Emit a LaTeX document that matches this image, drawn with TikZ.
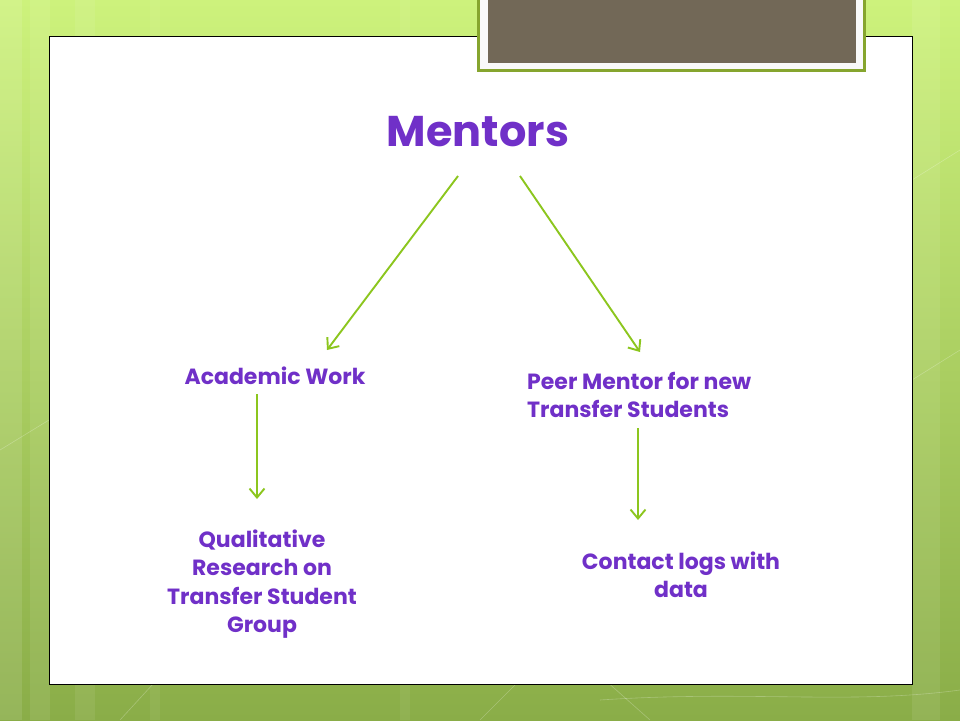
\documentclass[tikz,border=0pt]{standalone}
\usepackage{fontspec}
\setmainfont{Poppins}
\usetikzlibrary{arrows.meta}
\definecolor{txtpurple}{HTML}{7030C8}
\definecolor{arrgreen}{HTML}{8CC61E}
\definecolor{bgtop}{HTML}{CDF27C}
\definecolor{bgbot}{HTML}{8AAD48}
\definecolor{greybox}{HTML}{726857}
\definecolor{rimgreen}{HTML}{86A52E}
\tikzset{
  lbl/.style={text=txtpurple, font=\fontsize{22}{28.5}\selectfont\bfseries, inner sep=0pt},
  conn/.style={draw=arrgreen, line width=1.9pt, -{Straight Barb[length=9pt,width=15pt,line width=1.9pt]}},
}
\begin{document}
\begin{tikzpicture}[x=1pt,y=-1pt]
\useasboundingbox (0,0) rectangle (960,720);
% background
\shade[top color=bgtop, bottom color=bgbot] (0,0) rectangle (960,720);
\fill[white, opacity=0.10] (0,0) rectangle (22,720);
\fill[white, opacity=0.08] (30,0) rectangle (50,720);
\fill[white, opacity=0.07] (75,0) rectangle (95,720);
\fill[white, opacity=0.06] (150,0) rectangle (160,720);
\fill[white, opacity=0.06] (400,0) rectangle (410,720);
\fill[white, opacity=0.08] (912,0) rectangle (940,720);
\draw[white, opacity=0.25, line width=0.6pt] (120,720) -- (230,600);
\draw[white, opacity=0.25, line width=0.6pt] (480,720) -- (560,640);
\draw[white, opacity=0.25, line width=0.6pt] (560,640) -- (650,720);
\draw[white, opacity=0.25, line width=0.6pt] (600,700) .. controls (750,690) and (850,705) .. (960,690);
\draw[white, opacity=0.25, line width=0.6pt] (912,380) -- (960,350);
\draw[white, opacity=0.25, line width=0.6pt] (912,180) -- (960,150);
\draw[white, opacity=0.25, line width=0.6pt] (0,450) -- (49,420);
% white panel
\draw[fill=white, draw=black, line width=1pt] (49,36) rectangle (912,684);
% top grey box
\fill[fill=rimgreen] (477,-2) rectangle (866,72);
\fill[fill=white!95!gray] (480,-2) rectangle (863,69);
\fill[fill=greybox] (488,-2) rectangle (856,63);
% nodes
\node[text=txtpurple, font=\fontsize{43}{50}\selectfont\bfseries, inner sep=0pt] (mentors) at (478,132) {Mentors};
\node[lbl] (acad) at (275,376) {Academic Work};
\node[lbl, align=left, anchor=west] (peer) at (527,395) {Peer Mentor for new\\Transfer Students};
\node[lbl, align=center] (qual) at (262,584) {Qualitative\\Research on\\Transfer Student\\Group};
\node[lbl, align=center] (cont) at (681,575) {Contact logs with\\data};
% connector end points
\coordinate (m1) at (458,176);
\coordinate (m2) at (520,176);
\coordinate (a1) at (327,350);
\coordinate (p1) at (640,352);
\coordinate (as) at (257,394);
\coordinate (ae) at (257,499);
\coordinate (ps) at (638,428);
\coordinate (pe) at (638,520);
\draw[conn] (m1) -- (a1);
\draw[conn] (m2) -- (p1);
\draw[conn] (as) -- (ae);
\draw[conn] (ps) -- (pe);
\end{tikzpicture}
\end{document}
